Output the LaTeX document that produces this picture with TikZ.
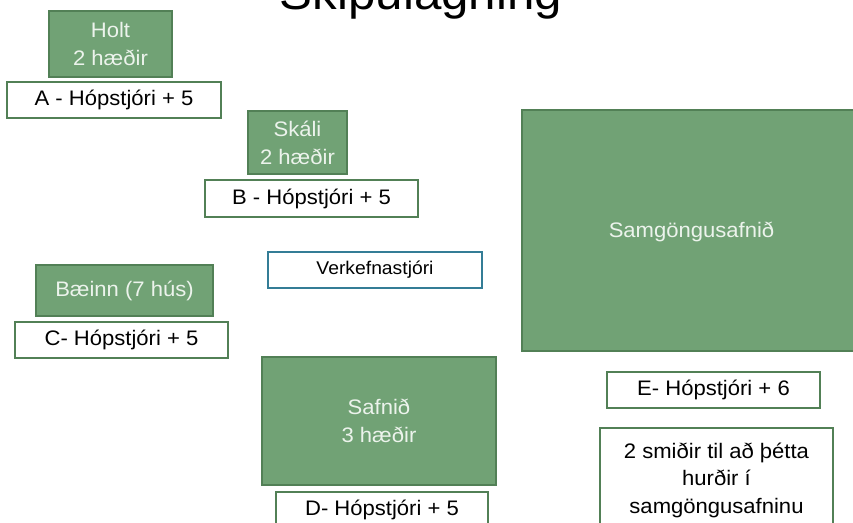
\documentclass[tikz,border=0pt]{standalone}
\usepackage{fontspec}
\setmainfont[FakeStretch=1.05]{Liberation Sans}
\definecolor{gfill}{RGB}{113,162,117}
\definecolor{gline}{RGB}{82,128,86}
\definecolor{gtext}{RGB}{236,243,236}
\definecolor{vline}{RGB}{52,125,150}
\tikzset{
  bld/.style={draw=gline, fill=gfill, line width=1.1pt, inner sep=0pt, align=center,
    text=gtext, font=\fontsize{15.75pt}{21pt}\selectfont},
  lbl/.style={draw=gline, fill=white, line width=1.4pt, inner sep=0pt, align=center,
    text=black, font=\fontsize{15.75pt}{20.6pt}\selectfont},
  vbox/.style={draw=vline, fill=white, line width=1.4pt, inner sep=0pt, align=center,
    text=black, font=\fontsize{13.8pt}{16pt}\selectfont},
}
\begin{document}
\begin{tikzpicture}[x=0.75pt,y=-0.75pt]
\useasboundingbox (0,0) rectangle (853,522);
\clip (0,0) rectangle (853,522);
\node[anchor=base, font=\fontsize{35.2pt}{40pt}\selectfont] (title) at (421,9) {Skipulagning};
% buildings
\node[bld, minimum width=123*0.75pt, minimum height=66*0.75pt] (holt) at (110.5,44) {Holt\\2 hæðir};
\node[bld, minimum width=99*0.75pt, minimum height=63*0.75pt] (skali) at (297.5,142.5) {Skáli\\2 hæðir};
\node[bld, minimum width=338*0.75pt, minimum height=241*0.75pt] (samg) at (691,230.5) {};
\node[text=gtext, font=\fontsize{15.75pt}{21pt}\selectfont] (samgt) at (691.5,232) {Samgöngusafnið};
\node[bld, minimum width=177*0.75pt, minimum height=51*0.75pt] (baeinn) at (124.5,290.5) {Bæinn (7 hús)};
\node[bld, minimum width=234*0.75pt, minimum height=128*0.75pt] (safnid) at (379,421) {Safnið\\3 hæðir};
% labels
\node[lbl, minimum width=214*0.75pt, minimum height=36*0.75pt] (a) at (114,100) {A - Hópstjóri + 5};
\node[lbl, minimum width=213*0.75pt, minimum height=37*0.75pt] (b) at (311.5,198.5) {B - Hópstjóri + 5};
\node[vbox, minimum width=214*0.75pt, minimum height=36*0.75pt] (verk) at (375,270) {Verkefnastjóri};
\node[lbl, minimum width=213*0.75pt, minimum height=36*0.75pt] (c) at (121.5,340) {C- Hópstjóri + 5};
\node[lbl, minimum width=212*0.75pt, minimum height=36*0.75pt] (d) at (382,510) {D- Hópstjóri + 5};
\node[lbl, minimum width=213*0.75pt, minimum height=36*0.75pt] (e) at (713.5,390) {E- Hópstjóri + 6};
\node[lbl, minimum width=233*0.75pt, minimum height=104*0.75pt] (smidir) at (716.5,480) {2 smiðir til að þétta\\hurðir í\\samgöngusafninu};
\end{tikzpicture}
\end{document}
